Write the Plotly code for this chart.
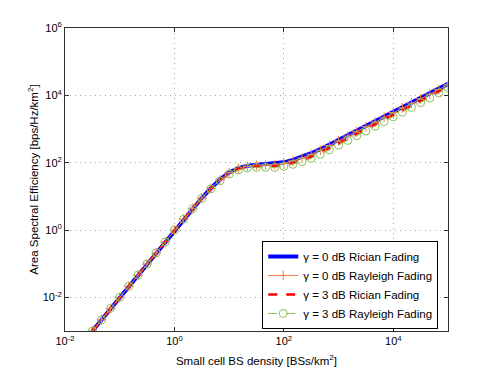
import numpy as np
import plotly.graph_objects as go

# log10 of small cell BS density [BSs/km^2]
log_density = [-1.5, -1.333, -1.167, -1.0, -0.833, -0.667, -0.5, -0.333, -0.167, 0.0,
               0.167, 0.333, 0.5, 0.667, 0.833, 1.0, 1.167, 1.333, 1.5, 1.667,
               1.833, 2.0, 2.167, 2.333, 2.5, 2.667, 2.833, 3.0, 3.167, 3.333,
               3.5, 3.667, 3.833, 4.0, 4.167, 4.333, 4.5, 4.667, 4.833, 5.0]

# log10 of area spectral efficiency
ase_0db_rician = [-3.0, -2.67, -2.33, -2.0, -1.67, -1.34, -1.01, -0.68, -0.35, 0.0,
                  0.32, 0.64, 0.95, 1.24, 1.5, 1.71, 1.84, 1.91, 1.94, 1.95,
                  1.97, 2.01, 2.08, 2.17, 2.28, 2.4, 2.54, 2.68, 2.82, 2.96,
                  3.1, 3.24, 3.38, 3.52, 3.66, 3.8, 3.93, 4.07, 4.2, 4.34]
ase_0db_rayleigh = [-3.0, -2.67, -2.33, -2.0, -1.67, -1.34, -1.01, -0.68, -0.35, 0.0,
                    0.32, 0.64, 0.95, 1.24, 1.49, 1.7, 1.83, 1.89, 1.92, 1.93,
                    1.94, 1.98, 2.05, 2.14, 2.25, 2.37, 2.51, 2.65, 2.79, 2.93,
                    3.07, 3.21, 3.35, 3.49, 3.63, 3.77, 3.9, 4.04, 4.17, 4.31]
ase_3db_rician = [-3.0, -2.67, -2.33, -2.0, -1.67, -1.34, -1.01, -0.68, -0.35, 0.0,
                  0.32, 0.64, 0.95, 1.23, 1.48, 1.68, 1.81, 1.87, 1.89, 1.9,
                  1.9, 1.93, 1.99, 2.07, 2.18, 2.3, 2.44, 2.58, 2.72, 2.86,
                  3.0, 3.14, 3.28, 3.42, 3.56, 3.7, 3.84, 3.98, 4.12, 4.26]
ase_3db_rayleigh = [-3.0, -2.67, -2.33, -2.0, -1.67, -1.34, -1.01, -0.68, -0.35, 0.0,
                    0.32, 0.63, 0.94, 1.22, 1.46, 1.66, 1.78, 1.84, 1.86, 1.86,
                    1.86, 1.89, 1.95, 2.03, 2.13, 2.25, 2.38, 2.52, 2.66, 2.8,
                    2.94, 3.08, 3.22, 3.36, 3.5, 3.64, 3.78, 3.92, 4.07, 4.23]

x = 10 ** np.array(log_density)

fig = go.Figure()
fig.add_trace(go.Scatter(x=x, y=10 ** np.array(ase_0db_rician), mode='lines',
                         name='γ = 0 dB Rician Fading',
                         line=dict(color='#0000ff', width=4)))
fig.add_trace(go.Scatter(x=x, y=10 ** np.array(ase_0db_rayleigh), mode='lines+markers',
                         name='γ = 0 dB Rayleigh Fading',
                         line=dict(color='#f4804a', width=1),
                         marker=dict(symbol='cross-thin', size=7,
                                     line=dict(color='#f4804a', width=1))))
fig.add_trace(go.Scatter(x=x, y=10 ** np.array(ase_3db_rician), mode='lines',
                         name='γ = 3 dB Rician Fading',
                         line=dict(color='#ff0000', width=2.5, dash='dash')))
fig.add_trace(go.Scatter(x=x, y=10 ** np.array(ase_3db_rayleigh), mode='lines+markers',
                         name='γ = 3 dB Rayleigh Fading',
                         line=dict(color='#8cc05a', width=1, dash='dash'),
                         marker=dict(symbol='circle-open', size=8,
                                     line=dict(color='#8cc05a', width=1))))

x_ticks = [1e-2, 1e0, 1e2, 1e4]
x_tick_text = ['10<sup>-2</sup>', '10<sup>0</sup>', '10<sup>2</sup>', '10<sup>4</sup>']
y_ticks = [1e-2, 1e0, 1e2, 1e4, 1e6]
y_tick_text = ['10<sup>-2</sup>', '10<sup>0</sup>', '10<sup>2</sup>', '10<sup>4</sup>', '10<sup>6</sup>']

axis_style = dict(showline=True, linecolor='#303030', linewidth=1, mirror='ticks',
                  ticks='inside', ticklen=4, tickcolor='#303030',
                  showgrid=True, gridcolor='#a8a8a8', griddash='1px,4px', gridwidth=1,
                  zeroline=False, tickfont=dict(size=11, color='black'))

fig.update_xaxes(type='log', range=[-2, 5], tickvals=x_ticks, ticktext=x_tick_text,
                 title=dict(text='Small cell BS density [BSs/km<sup>2</sup>]',
                            font=dict(size=11.5), standoff=10),
                 **axis_style)
fig.update_yaxes(type='log', range=[-3, 6], tickvals=y_ticks, ticktext=y_tick_text,
                 title=dict(text='Area Spectral Efficiency [bps/Hz/km<sup>2</sup>]',
                            font=dict(size=11.5), standoff=1),
                 **axis_style)

# page body adds an 8px offset, so margins are shifted to compensate
fig.update_layout(
    width=496, height=372,
    margin=dict(l=57, r=56, t=20, b=49),
    paper_bgcolor='white', plot_bgcolor='white',
    font=dict(family='Liberation Sans, Arial, sans-serif', size=11, color='black'),
    legend=dict(x=0.515, y=0.152, xanchor='left', yanchor='middle',
                bgcolor='white', bordercolor='black', borderwidth=1,
                font=dict(size=11.5), tracegroupgap=0, itemwidth=30),
    showlegend=True,
)

fig.write_html("out.html")
